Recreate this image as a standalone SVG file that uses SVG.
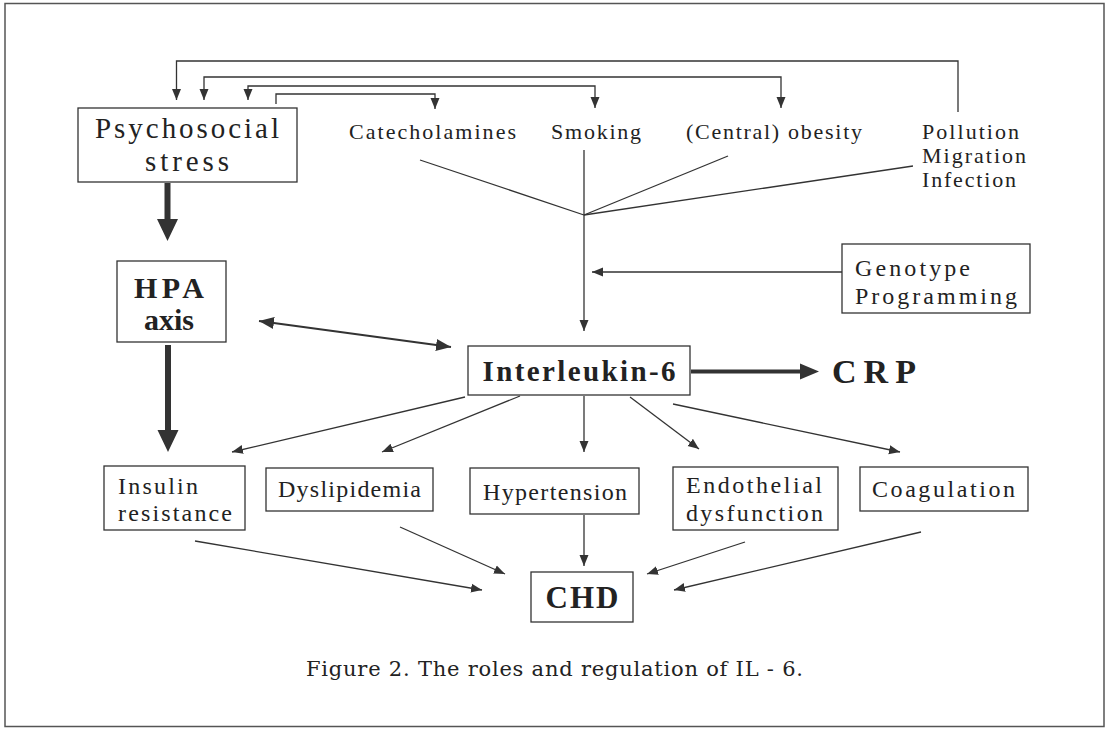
<svg xmlns="http://www.w3.org/2000/svg" width="1107" height="730" viewBox="0 0 1107 730">
<style>
.box{fill:#fff;stroke:#333;stroke-width:1.3}
.t{font-family:"Liberation Serif","Times New Roman",serif;fill:#222}
.b{font-family:"Liberation Serif","Times New Roman",serif;font-weight:bold;fill:#222}
.ln{fill:none;stroke:#333;stroke-width:1.3}
.arr{fill:none;stroke:#333;stroke-width:1.3;marker-end:url(#ah)}
.fill{fill:#333;stroke:none}
</style>
<defs>
<marker id="ah" markerUnits="userSpaceOnUse" markerWidth="12" markerHeight="10" refX="11" refY="5" orient="auto-start-reverse">
<path d="M0,0.5 L11,5 L0,9.5 z" fill="#333"/>
</marker>
<marker id="ah2" markerUnits="userSpaceOnUse" markerWidth="16" markerHeight="12" refX="15" refY="6" orient="auto-start-reverse">
<path d="M0,0 L15,6 L0,12 z" fill="#333"/>
</marker>
</defs>
<rect x="0" y="0" width="1107" height="730" fill="#fff"/>
<rect x="5" y="3.5" width="1099" height="723" fill="none" stroke="#555" stroke-width="1.5"/>

<g id="connectors">
<!-- feedback brackets from Psychosocial stress -->
<path class="arr" d="M958,112 V61 H176.5 V100"/>
<path class="arr" d="M781,108 V77 H204 V100" marker-start="url(#ah)"/>
<path class="arr" d="M595,108 V86 H248 V100" marker-start="url(#ah)"/>
<path class="arr" d="M276,104 V94 H435 V109"/>
<!-- converging lines -->
<path class="ln" d="M420,160 L584,215"/>
<path class="ln" d="M584,150 V215"/>
<path class="ln" d="M728,156 L584,215"/>
<path class="ln" d="M913,166 L584,215"/>
<path class="arr" d="M584,215 V331"/>
<!-- genotype -->
<path class="arr" d="M842,272 H592"/>
<!-- thick arrows -->
<path class="fill" d="M164.5,183 H170.5 V219 H178 L167.5,241 L157,219 H164.5 Z"/>
<path class="fill" d="M165,345 H171 V430 H178.5 L168,452 L157.5,430 H165 Z"/>
<path class="fill" d="M691,369.5 H800 V363.5 L819,371.5 L800,379.5 V373.5 H691 Z"/>
<!-- double arrow -->
<path d="M259,321 L451,347" fill="none" stroke="#333" stroke-width="2" marker-start="url(#ah2)" marker-end="url(#ah2)"/>
<!-- IL-6 outputs -->
<path class="arr" d="M465,397 L232,452"/>
<path class="arr" d="M520,396 L382,452"/>
<path class="arr" d="M584,396 V452"/>
<path class="arr" d="M630,397 L699,449"/>
<path class="arr" d="M673,404 L900,452"/>
<!-- to CHD -->
<path class="arr" d="M195,541 L482,590"/>
<path class="arr" d="M400,527 L505,574"/>
<path class="arr" d="M584,515 V566"/>
<path class="arr" d="M745,542 L647,574"/>
<path class="arr" d="M921,532 L674,590"/>
</g>

<g id="psychosocial">
<rect class="box" x="78" y="108" width="219" height="74"/>
<text class="t" x="187" y="138" font-size="29" text-anchor="middle" textLength="184" lengthAdjust="spacing">Psychosocial</text>
<text class="t" x="187" y="171" font-size="29" text-anchor="middle" textLength="84" lengthAdjust="spacing">stress</text>
</g>
<g id="catecholamines"><text class="t" x="349" y="139" font-size="22" textLength="167" lengthAdjust="spacing">Catecholamines</text></g>
<g id="smoking"><text class="t" x="551" y="139" font-size="22" textLength="90" lengthAdjust="spacing">Smoking</text></g>
<g id="obesity"><text class="t" x="686" y="139" font-size="22" textLength="176" lengthAdjust="spacing">(Central) obesity</text></g>
<g id="pollution">
<text class="t" x="922" y="139" font-size="22" textLength="97" lengthAdjust="spacing">Pollution</text>
<text class="t" x="922" y="163" font-size="22" textLength="104" lengthAdjust="spacing">Migration</text>
<text class="t" x="922" y="187" font-size="22" textLength="94" lengthAdjust="spacing">Infection</text>
</g>
<g id="genotype">
<rect class="box" x="842" y="244" width="188" height="69"/>
<text class="t" x="855" y="276" font-size="24" textLength="115" lengthAdjust="spacing">Genotype</text>
<text class="t" x="855" y="304" font-size="24" textLength="162" lengthAdjust="spacing">Programming</text>
</g>
<g id="hpa">
<rect class="box" x="117" y="261" width="109" height="81"/>
<text class="b" x="169" y="298" font-size="30" text-anchor="middle" textLength="70" lengthAdjust="spacing">HPA</text>
<text class="b" x="169" y="330" font-size="30" text-anchor="middle" textLength="50" lengthAdjust="spacing">axis</text>
</g>
<g id="il6">
<rect class="box" x="468" y="346" width="222" height="49"/>
<text class="b" x="579" y="381" font-size="29" text-anchor="middle" textLength="193" lengthAdjust="spacing">Interleukin-6</text>
</g>
<g id="crp"><text class="b" x="832" y="383" font-size="34" textLength="84" lengthAdjust="spacing">CRP</text></g>
<g id="insulin">
<rect class="box" x="104" y="466" width="141" height="64"/>
<text class="t" x="118" y="494" font-size="24" textLength="80" lengthAdjust="spacing">Insulin</text>
<text class="t" x="118" y="521" font-size="24" textLength="114" lengthAdjust="spacing">resistance</text>
</g>
<g id="dyslipidemia">
<rect class="box" x="266" y="468" width="167" height="43"/>
<text class="t" x="278" y="497" font-size="24" textLength="143" lengthAdjust="spacing">Dyslipidemia</text>
</g>
<g id="hypertension">
<rect class="box" x="470" y="468" width="169" height="46"/>
<text class="t" x="483" y="500" font-size="24" textLength="144" lengthAdjust="spacing">Hypertension</text>
</g>
<g id="endothelial">
<rect class="box" x="673" y="467" width="165" height="63"/>
<text class="t" x="686" y="493" font-size="24" textLength="136" lengthAdjust="spacing">Endothelial</text>
<text class="t" x="686" y="521" font-size="24" textLength="137" lengthAdjust="spacing">dysfunction</text>
</g>
<g id="coagulation">
<rect class="box" x="860" y="467" width="168" height="44"/>
<text class="t" x="872" y="497" font-size="24" textLength="143" lengthAdjust="spacing">Coagulation</text>
</g>
<g id="chd">
<rect class="box" x="531" y="572" width="102" height="50"/>
<text class="b" x="582" y="608" font-size="31" text-anchor="middle" textLength="73" lengthAdjust="spacing">CHD</text>
</g>
<g id="caption">
<text x="306" y="676" font-family="DejaVu Serif,serif" font-size="21" fill="#222" textLength="497" lengthAdjust="spacing">Figure 2. The roles and regulation of IL - 6.</text>
</g>
</svg>
